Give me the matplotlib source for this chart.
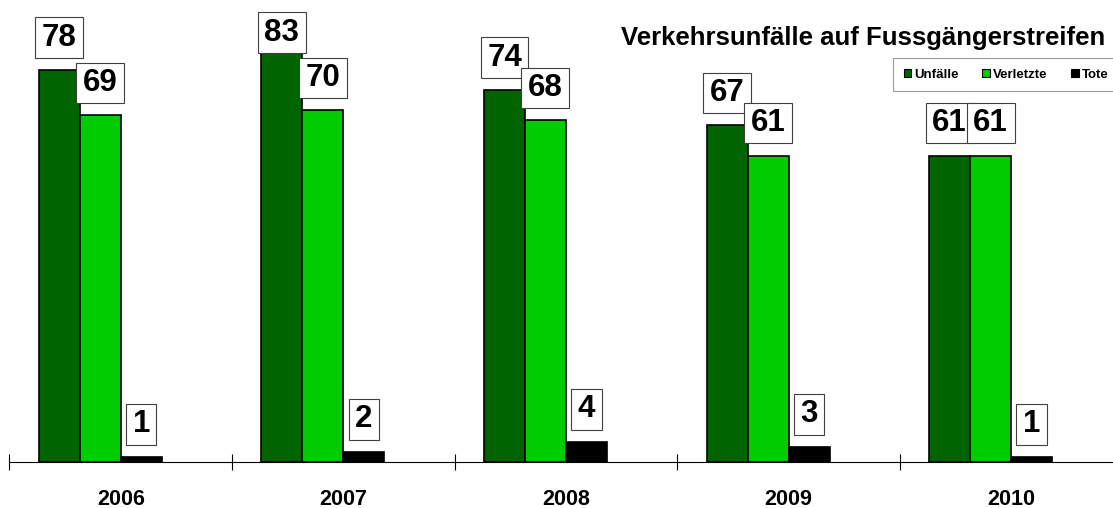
import numpy as np
import matplotlib.pyplot as plt
from matplotlib.patches import Patch
from matplotlib.path import Path

# Daten
years = ["2006", "2007", "2008", "2009", "2010"]
unfaelle = [78, 83, 74, 67, 61]
verletzte = [69, 70, 68, 61, 61]
tote = [1, 2, 4, 3, 1]
series_names = ["Unfälle", "Verletzte", "Tote"]
colors = ["#006400", "#00CC00", "#000000"]

plt.rcParams["font.family"] = ["Liberation Sans", "DejaVu Sans"]
plt.rcParams["font.weight"] = "bold"


# Rahmen der Wertelabels: mehr Platz links/rechts als oben/unten
def label_box(x0, y0, width, height, mutation_size):
    px = 0.21 * mutation_size
    py = 0.17 * mutation_size
    return Path(
        [
            (x0 - px, y0 - py),
            (x0 + width + px, y0 - py),
            (x0 + width + px, y0 + height + py),
            (x0 - px, y0 + height + py),
            (x0 - px, y0 - py),
        ],
        closed=True,
    )


fig = plt.figure(figsize=(11.13, 5.08), dpi=100)
ax = fig.add_axes([0.0085, 0.0906, 1.0, 0.8898])

x = np.arange(len(years))
w = 0.184
offsets = [-1.5 * w, -0.5 * w, 0.5 * w]
data = [unfaelle, verletzte, tote]

for i, (vals, col, off) in enumerate(zip(data, colors, offsets)):
    ax.bar(x + off, vals, width=w, color=col, edgecolor="black",
           linewidth=1.2, zorder=2)
    for xi, v in zip(x, vals):
        ly = min(v + 3.5, 82.5)
        ax.text(xi + off, ly, str(v), ha="center", va="bottom",
                fontsize=22.5, fontweight="bold", zorder=5 + i,
                bbox=dict(boxstyle=label_box, fc="white", ec="#404040", lw=0.8))

ax.set_xlim(-0.5, 4.5)
ax.set_ylim(0, 90)
ax.patch.set_visible(False)
for s in ["top", "right", "left"]:
    ax.spines[s].set_visible(False)
ax.spines["bottom"].set_linewidth(0.8)
ax.set_yticks([])
ax.set_xticks(x)
ax.set_xticklabels(years, fontsize=15.5, fontweight="bold")
ax.tick_params(axis="x", which="major", length=0, pad=19.5)
ax.set_xticks(np.arange(-0.5, 5, 1), minor=True)
ax.tick_params(axis="x", which="minor", direction="inout", length=12, width=0.8)

fig.text(1105 / 1113, 1 - 45.5 / 508, "Verkehrsunfälle auf Fussgängerstreifen",
         ha="right", va="baseline", fontsize=18.5, fontweight="bold")

handles = [Patch(facecolor=c, edgecolor="black", lw=0.8) for c in colors]
leg = fig.legend(handles, series_names, loc="upper left",
                 bbox_to_anchor=(893 / 1113, 1 - 58 / 508), ncol=3,
                 prop={"size": 9.5, "weight": "bold"}, frameon=True,
                 fancybox=False, edgecolor="#808080", handlelength=0.6,
                 handleheight=0.6, handletextpad=0.2, columnspacing=1.8,
                 borderpad=0.8, borderaxespad=0)
leg.get_frame().set_linewidth(0.8)

plt.savefig("out.png", dpi=100)
